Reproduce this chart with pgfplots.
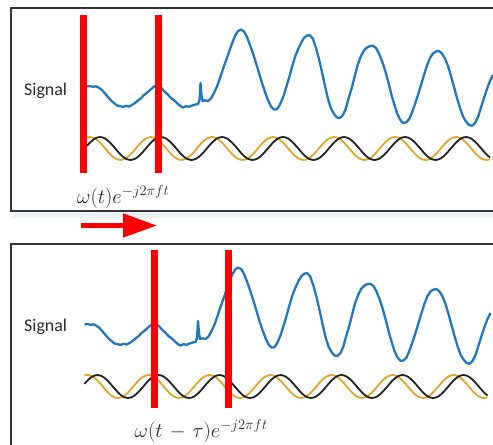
\documentclass[border=0pt]{standalone}
\usepackage{pgfplots}
\pgfplotsset{compat=1.18}
\usepackage{pgfplotstable}
\usepackage{graphicx}
\usepackage{fontspec}
\newfontfamily\carlito{Carlito}
\usetikzlibrary{arrows.meta}
\definecolor{sigblue}{HTML}{2276BC}
\definecolor{wavegold}{HTML}{E2A42A}
\definecolor{waveblack}{HTML}{222222}
\definecolor{framegray}{HTML}{333333}
\definecolor{textgray}{HTML}{2A2A2A}
\definecolor{shadow}{HTML}{EDF2F7}

\pgfplotstableread{
x y
87 86.5
90 86
93 86.8
96 86.3
99 87.8
102 90
105 93.5
108 97
111 100.5
114 103
117 105.5
120 106.2
123 106.8
126 105.8
129 106.5
132 105
135 103
138 100.5
141 98.2
144 95
147 92.8
150 90
153 87.5
156 85.2
159 86
162 88.8
165 92
168 94.8
171 98
174 100.2
177 103
180 105.8
183 107.5
186 106.2
189 106.8
192 105.5
195 104.6
198 104
199.5 100
200.5 83
201.5 95
202.5 101
205 100.3
208 101
211 98.5
214 93
217 86.5
220 78
223 69
226 60.5
229 52
232 43.5
235 36
238 31
241 29.5
244 31.5
247 37
250 45
253 53.5
256 63
259 73
262 83
265 92
268 100
271 106.5
274 109.5
277 109.3
280 104.5
283 97.5
286 88
289 78
292 67
295 57
298 49.5
301 43
304 38
307 35.5
310 35.3
313 39
316 48
319 59
322 72
325 86
328 99
331 108.5
334 114
337 117.5
340 118
343 115
346 108
349 97
352 87
355 75
358 64
361 56
364 50.5
367 47.5
370 46
373 45.8
376 48
379 53.5
382 61
385 70
388 81
391 93
394 103.5
397 113
400 119.5
403 122.8
406 122.5
409 119.5
412 112.5
415 104
418 95
421 85
424 75
427 65.5
430 58
433 53.5
436 51.5
439 51
442 53.5
445 58.5
448 66
451 76
454 87
457 98
460 108
463 116.5
466 121.5
469 125
472 125.8
475 123
478 117
481 107.5
484 98
487 89
490 81
493 75
}\signaltable

\pgfplotstableread{
x y
87 145.9
89.8 142.8
94.9 138.5
100 137
105.1 138.5
110.2 142.8
115.3 148.5
120.3 154.3
125.4 158.5
130.5 160
135.6 158.5
140.7 154.3
145.8 148.5
150.8 142.8
155.9 138.5
161 137
166.1 138.5
171.2 142.8
176.3 148.5
181.3 154.3
186.4 158.5
191.5 160
196.6 158.5
201.7 154.3
206.8 148.5
211.8 142.8
216.9 138.5
222 137
227.1 138.5
232.2 142.8
237.3 148.5
242.3 154.3
247.4 158.5
252.5 160
257.6 158.5
262.7 154.3
267.8 148.5
272.8 142.8
277.9 138.5
283 137
288.1 138.5
293.2 142.8
298.3 148.5
303.3 154.3
308.4 158.5
313.5 160
318.6 158.5
323.7 154.3
328.8 148.5
333.8 142.8
338.9 138.5
344 137
349.1 138.5
354.2 142.8
359.3 148.5
364.3 154.3
369.4 158.5
374.5 160
379.6 158.5
384.7 154.3
389.8 148.5
394.8 142.8
399.9 138.5
405 137
410.1 138.5
415.2 142.8
420.3 148.5
425.3 154.3
430.4 158.5
435.5 160
440.6 158.5
445.7 154.3
450.8 148.5
455.8 142.8
460.9 138.5
466 137
471.1 138.5
476.2 142.8
481.3 148.5
486.3 154.3
490 157.5
}\blacktable

\pgfplotstableread{
x y
87 137.5
90 137
95.1 138.5
100.2 142.8
105.3 148.5
110.3 154.3
115.4 158.5
120.5 160
125.6 158.5
130.7 154.3
135.8 148.5
140.8 142.8
145.9 138.5
151 137
156.1 138.5
161.2 142.8
166.3 148.5
171.3 154.3
176.4 158.5
181.5 160
186.6 158.5
191.7 154.3
196.8 148.5
201.8 142.8
206.9 138.5
212 137
217.1 138.5
222.2 142.8
227.3 148.5
232.3 154.3
237.4 158.5
242.5 160
247.6 158.5
252.7 154.3
257.8 148.5
262.8 142.8
267.9 138.5
273 137
278.1 138.5
283.2 142.8
288.3 148.5
293.3 154.3
298.4 158.5
303.5 160
308.6 158.5
313.7 154.3
318.8 148.5
323.8 142.8
328.9 138.5
334 137
339.1 138.5
344.2 142.8
349.3 148.5
354.3 154.3
359.4 158.5
364.5 160
369.6 158.5
374.7 154.3
379.8 148.5
384.8 142.8
389.9 138.5
395 137
400.1 138.5
405.2 142.8
410.3 148.5
415.3 154.3
420.4 158.5
425.5 160
430.6 158.5
435.7 154.3
440.8 148.5
445.8 142.8
450.9 138.5
456 137
461.1 138.5
466.2 142.8
471.3 148.5
476.3 154.3
481.4 158.5
486.5 160
490 159.3
}\goldtable

\pgfplotsset{
  panel/.style={scale only axis, width=493bp, height=445bp, hide axis,
    y dir=reverse, clip=true, no markers, at={(0,0)}, anchor=north west},
  wavestyle/.style={line width=1.8bp, smooth, line join=round},
  sigstyle/.style={sigblue, line width=2.3bp, line join=round},
  redbar/.style={color={rgb,255:red,250;green,0;blue,0}, line width=7bp},
}

\begin{document}
\begin{tikzpicture}
% ---------- top panel + arrow ----------
\begin{axis}[panel, xmin=0, xmax=493, ymin=0, ymax=445]
  \addplot[shadow, line width=6bp] coordinates {(11,215) (493,215)};
  \addplot[framegray, line width=1.6bp, line join=miter] coordinates {(493,8) (11,8) (11,211) (493,211)};
  \addplot[sigstyle] table {\signaltable};
  \addplot[wavestyle, wavegold] table {\goldtable};
  \addplot[wavestyle, waveblack] table {\blacktable};
  \addplot[redbar] coordinates {(83.5,15) (83.5,173)};
  \addplot[redbar] coordinates {(158,15) (158,173)};
  \addplot[color={rgb,255:red,250;green,0;blue,0}, line width=5bp,
    -{Triangle[length=34bp,width=23bp]}] coordinates {(81,225.5) (157,225.5)};
  \node[anchor=base west, inner sep=0pt, text=textgray] at (axis cs:24,95)
    {\carlito\fontsize{18}{20}\selectfont Signal};
  \node[anchor=base west, inner sep=0pt, text=textgray] at (axis cs:77,203)
    {\fontsize{20}{22}\selectfont $\omega(t)e^{-j2\pi f t}$};
\end{axis}
% ---------- bottom panel (same data, shifted view) ----------
\begin{axis}[panel, xmin=2.5, xmax=495.5, ymin=-238, ymax=207]
  \addplot[framegray, line width=1.6bp, line join=miter] coordinates {(495.5,6) (13.5,6) (13.5,215)};
  \addplot[sigstyle] table {\signaltable};
  \addplot[wavestyle, wavegold] table {\goldtable};
  \addplot[wavestyle, waveblack] table {\blacktable};
  \addplot[redbar] coordinates {(157,12) (157,170)};
  \addplot[redbar] coordinates {(231.2,12) (231.2,170)};
  \node[anchor=base west, inner sep=0pt, text=textgray] at (axis cs:26.5,93.7)
    {\carlito\fontsize{18}{20}\selectfont Signal};
  \node[anchor=base west, inner sep=0pt, text=textgray] at (axis cs:137,199)
    {\fontsize{20}{22}\selectfont $\omega(t\mskip2mu-\mskip2mu\tau)e^{-j2\pi f t}$};
\end{axis}
\pgfresetboundingbox
\useasboundingbox (0,0) rectangle (493bp,-445bp);
\end{tikzpicture}
\end{document}
